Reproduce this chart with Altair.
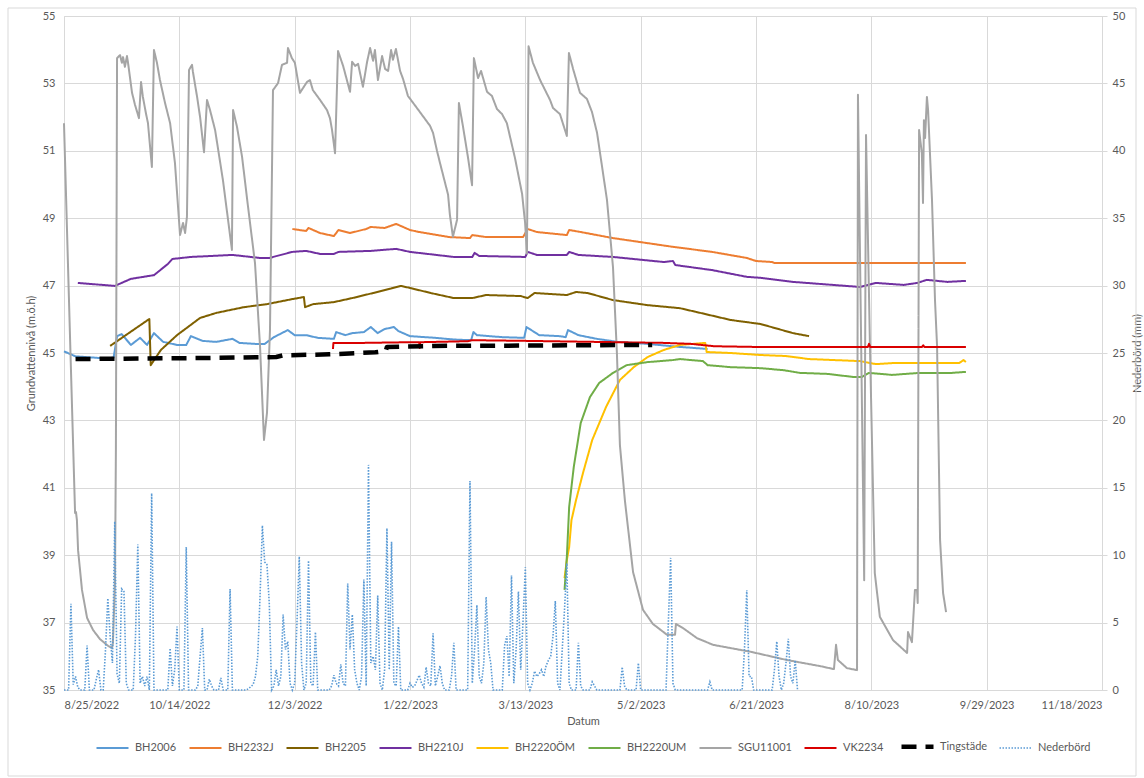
import altair as alt
import pandas as pd

START = pd.Timestamp("2022-08-25")

SERIES = ["BH2006", "BH2232J", "BH2205", "BH2210J", "BH2220ÖM", "BH2220UM",
          "SGU11001", "VK2234", "Tingstäde", "Nederbörd"]
COLORS = ["#5B9BD5", "#ED7D31", "#7F6000", "#7030A0", "#FFC000", "#70AD47",
          "#A5A5A5", "#D90000", "#000000", "#5B9BD5"]
DASHES = [[1, 0], [1, 0], [1, 0], [1, 0], [1, 0], [1, 0],
          [1, 0], [1, 0], [15, 9], [1.5, 1.5]]
WIDTHS = [2, 2, 2, 2, 2, 2, 2, 2, 4.5, 1.6]

# Day offsets are counted from 2022-08-25
bh2006_day = [0, 5, 18, 21.5, 23, 25, 29, 33, 36, 39, 43, 49, 53, 55, 60, 66, 73, 76, 83, 87,
              91, 97, 100, 105, 110, 117, 118, 122, 125, 130, 133, 136, 139, 143, 145, 150,
              161, 169, 176.5, 177.5, 179, 190, 199.5, 200.5, 206, 215, 217.5, 218.5, 223,
              231, 240, 253, 267, 279]
bh2006_val = [45.05, 44.90, 44.84, 44.86, 45.50, 45.56, 45.24, 45.45, 45.24, 45.59, 45.33, 45.24,
              45.24, 45.50, 45.36, 45.33, 45.42, 45.30, 45.27, 45.27, 45.47, 45.68, 45.53, 45.53,
              45.45, 45.42, 45.62, 45.53, 45.59, 45.62, 45.77, 45.59, 45.71, 45.77, 45.65, 45.50,
              45.45, 45.40, 45.38, 45.62, 45.53, 45.47, 45.45, 45.77, 45.53, 45.50, 45.47, 45.68,
              45.53, 45.42, 45.33, 45.27, 45.18, 45.12]

bh2232j_day = [99, 105, 106, 111, 117, 119, 124, 131, 133, 139, 144, 150, 154, 167, 176, 177,
               183, 199, 201, 205, 218, 219, 224, 238, 253, 264, 281, 296, 300, 307, 308, 391]
bh2232j_val = [48.68, 48.62, 48.71, 48.56, 48.47, 48.65, 48.56, 48.68, 48.74, 48.71, 48.83, 48.65,
               48.59, 48.44, 48.41, 48.50, 48.44, 48.44, 48.68, 48.59, 48.50, 48.65, 48.59, 48.41,
               48.26, 48.15, 48.00, 47.82, 47.73, 47.70, 47.67, 47.67]

bh2205_day = [20, 37, 37.6, 42, 49, 59, 66, 78, 88, 99, 104, 104.5, 108, 117, 125, 134, 146,
              150, 159, 169, 177, 183, 198, 201, 204, 218, 222, 227, 238, 253, 267, 274, 289,
              302, 316, 323]
bh2205_val = [45.21, 46.01, 44.64, 45.09, 45.53, 46.04, 46.19, 46.36, 46.45, 46.60, 46.66, 46.36,
              46.45, 46.51, 46.63, 46.78, 46.99, 46.93, 46.78, 46.63, 46.63, 46.72, 46.69, 46.63,
              46.78, 46.72, 46.81, 46.78, 46.57, 46.42, 46.33, 46.22, 45.98, 45.86, 45.59, 45.50]

bh2210j_day = [6, 22, 29, 39, 45, 47, 55, 73, 85, 89, 99, 105, 111, 117, 119, 133, 144, 150,
               169, 177, 178, 180, 200, 201, 205, 218, 219, 223, 238, 260, 264, 265, 281, 296,
               302, 316, 345, 352, 364, 370, 374, 383, 391]
bh2210j_val = [47.08, 46.99, 47.20, 47.31, 47.64, 47.79, 47.85, 47.91, 47.82, 47.82, 48.00, 48.03,
               47.94, 47.94, 48.00, 48.03, 48.09, 48.00, 47.85, 47.85, 47.97, 47.88, 47.85, 48.00,
               47.91, 47.91, 48.00, 47.91, 47.85, 47.70, 47.73, 47.61, 47.46, 47.26, 47.23, 47.11,
               46.96, 47.08, 47.02, 47.08, 47.17, 47.11, 47.14]

bh2220om_day = [217, 218, 219, 220, 222, 225, 229, 235, 241, 247, 253, 260, 267, 278, 278.6,
                289, 302, 313, 323, 345, 352, 359, 388, 390, 391]
bh2220om_val = [38.32, 38.86, 39.24, 40.04, 40.64, 41.44, 42.42, 43.40, 44.20, 44.58, 44.88,
                45.09, 45.24, 45.30, 45.03, 45.00, 44.94, 44.91, 44.82, 44.76, 44.67, 44.70,
                44.70, 44.79, 44.73]

bh2220um_day = [217, 218, 219, 221, 224, 228, 232, 238, 244, 253, 264, 267, 277, 279, 289, 302,
                312, 319, 331, 342, 346, 349, 359, 371, 385, 391]
bh2220um_val = [37.97, 38.95, 40.43, 41.62, 42.92, 43.69, 44.11, 44.41, 44.64, 44.73, 44.79,
                44.82, 44.76, 44.64, 44.58, 44.55, 44.49, 44.41, 44.38, 44.29, 44.29, 44.41,
                44.35, 44.41, 44.41, 44.44]

sgu11001_day = [0, 2.6, 4.8, 5.2, 5.6, 6.1, 7.8, 10, 12.6, 15.6, 19.1, 20.8, 21.2, 22.1, 22.5,
                23.0, 24.3, 25.1, 25.6, 26.4, 27.3, 27.7, 29.5, 30.8, 32.5, 33.4, 34.2, 35.5,
                36.4, 38.1, 39.0, 40.3, 41.6, 43.8, 46.0, 48.1, 50.3, 51.6, 52.5, 53.3, 54.2,
                55.5, 55.9, 57.7, 59.0, 60.7, 62.0, 63.3, 65.5, 68.9, 72.8, 73.3, 75.0, 77.2,
                79.8, 82.8, 85.0, 86.7, 88.0, 89.3, 90.6, 92.8, 94.5, 96.7, 97.1, 98.8, 100.1,
                102.3, 105.3, 106.6, 107.9, 111.0, 114.0, 115.3, 116.2, 117.5, 118.8, 121.0,
                124.0, 124.9, 126.2, 127.5, 129.6, 131.4, 132.7, 134.0, 134.8, 136.1, 137.9,
                139.2, 140.5, 141.8, 142.6, 143.9, 145.7, 147.0, 149.1, 153.0, 158.7, 160.0,
                161.7, 163.0, 166.5, 167.3, 168.6, 170.4, 171.2, 173.0, 175.1, 176.9, 177.7,
                179.5, 180.8, 183.4, 185.5, 187.7, 189.9, 192.0, 195.5, 198.6, 199.9, 200.7,
                201.4, 203.3, 206.4, 210.7, 212.0, 215.0, 218.0, 218.9, 220.7, 223.7, 226.7,
                228.9, 231.1, 235.4, 238.0, 239.7, 241.0, 243.2, 246.7, 251.0, 255.3, 261.4,
                264.9, 265.3, 268.3, 274.4, 281.4, 298.0, 313.4, 327.7, 333.8, 334.7, 335.5,
                339.4, 343.8, 344.2, 346.9, 347.7, 349.4, 351.5, 353.7, 359.4, 365.5, 365.9,
                367.6, 368.9, 369.8, 370.1, 370.7, 371.9, 372.4, 372.8, 373.3, 374.1, 374.6,
                376.3, 377.6, 378.5, 379.8, 381.1, 382.4]
sgu11001_val = [51.82, 45.50, 40.25, 40.28, 40.04, 39.15, 37.97, 37.14, 36.78, 36.51, 36.31,
                36.25, 36.39, 38.17, 42.12, 53.75, 53.84, 53.61, 53.78, 53.49, 53.81, 53.64,
                52.72, 52.36, 51.97, 53.04, 52.60, 52.12, 51.82, 50.52, 53.99, 53.61, 53.10,
                52.42, 51.82, 50.64, 48.50, 48.86, 48.56, 49.04, 53.40, 53.55, 53.34, 52.60,
                52.00, 50.96, 52.51, 52.21, 51.62, 50.13, 48.06, 52.21, 51.71, 50.82, 49.33,
                47.67, 45.18, 42.42, 43.22, 45.68, 52.80, 53.01, 53.55, 53.61, 54.05, 53.75,
                53.61, 52.72, 53.04, 53.10, 52.80, 52.51, 52.21, 51.97, 51.62, 50.93, 53.96,
                53.52, 52.75, 53.64, 53.52, 53.58, 52.90, 53.64, 54.05, 53.67, 53.99, 53.10,
                53.81, 53.43, 53.37, 53.99, 53.70, 54.02, 53.37, 53.13, 52.63, 52.27, 51.74,
                51.53, 51.00, 50.64, 49.70, 49.10, 48.45, 48.95, 52.42, 51.71, 50.82, 49.98,
                53.75, 53.16, 53.37, 52.75, 52.63, 52.24, 52.09, 51.82, 50.79, 49.72, 48.86,
                47.95, 54.10, 53.61, 53.10, 52.51, 52.27, 52.09, 51.44, 53.90, 53.43, 52.72,
                52.54, 52.15, 51.53, 49.54, 47.55, 45.00, 42.27, 40.60, 38.50, 37.38, 36.96,
                36.64, 36.64, 36.96, 36.84, 36.54, 36.34, 36.13, 35.89, 35.71, 35.62, 36.34,
                35.89, 35.65, 35.59, 52.66, 38.26, 51.47, 45.20, 38.47, 37.17, 36.48, 36.10,
                36.72, 36.42, 37.97, 37.97, 37.58, 51.62, 50.93, 49.45, 51.91, 51.38, 52.60,
                52.21, 49.54, 46.57, 45.20, 39.45, 37.88, 37.31]

vk2234_day = [116.6, 116.8, 130, 150, 154, 154.2, 154.4, 175, 177, 200, 230, 260, 272, 282, 300,
              348.5, 349, 349.5, 372, 372.5, 373, 391]
vk2234_val = [45.12, 45.30, 45.30, 45.32, 45.32, 45.15, 45.32, 45.35, 45.38, 45.36, 45.33,
              45.30, 45.27, 45.20, 45.18, 45.18, 45.27, 45.18, 45.18, 45.23, 45.18, 45.18]

tingstade_day = [5, 60, 92, 95, 115, 135, 139.5, 140, 160, 200, 255]
tingstade_val = [44.82, 44.85, 44.88, 44.93, 44.96, 45.02, 45.06, 45.18, 45.21, 45.22, 45.24]

# Daily precipitation (mm)
nederbord_day = [0, 2, 3, 4, 5, 6, 7, 9, 10, 11, 13, 14, 15, 16, 17, 18, 19, 20, 21, 22, 23, 24,
                 25, 26, 27, 28, 30, 31, 32, 33, 34, 35, 36, 37, 38, 39, 45, 46, 47, 48, 49, 50,
                 52, 53, 54, 57, 58, 59, 60, 61, 62, 63, 64, 65, 67, 68, 69, 71, 72, 73, 79, 80,
                 82, 83, 84, 85, 86, 87, 88, 89, 90, 91, 92, 93, 94, 95, 96, 97, 98, 99, 100,
                 101, 102, 103, 104, 105, 106, 107, 108, 109, 110, 115, 116, 117, 118, 119, 120,
                 121, 122, 123, 124, 125, 126, 127, 128, 129, 130, 131, 132, 133, 134, 135, 136,
                 137, 138, 139, 140, 141, 142, 143, 144, 145, 146, 149, 150, 151, 152, 153, 154,
                 155, 156, 157, 158, 159, 160, 161, 162, 163, 164, 165, 167, 168, 169, 170, 175,
                 176, 177, 178, 179, 180, 181, 182, 183, 184, 185, 186, 190, 191, 192, 193, 194,
                 195, 196, 197, 198, 199, 200, 201, 202, 203, 204, 205, 206, 207, 208, 209, 210,
                 211, 212, 213, 214, 215, 216, 217, 218, 219, 220, 222, 223, 224, 225, 228, 229,
                 230, 231, 241, 242, 243, 244, 248, 249, 250, 261, 262, 263, 264, 265, 279, 280,
                 281, 294, 295, 296, 297, 298, 299, 307, 308, 309, 310, 311, 312, 313, 314, 315,
                 316, 317, 318]
nederbord_mm = [0, 0, 6.4, 0.4, 1.0, 0.2, 0, 0, 3.3, 0, 0, 0.8, 1.5, 0, 0, 3.0, 6.8, 4.0, 2.0,
                12.5, 1.2, 0.5, 7.5, 7.3, 0.5, 0, 0, 4.0, 10.8, 0.5, 1.0, 0.3, 1.0, 0, 14.6, 0,
                0, 3.1, 0.3, 1.5, 4.7, 0, 0, 10.6, 0, 0, 0.3, 2.5, 4.6, 0, 0, 0.8, 0.3, 0, 0,
                0.9, 0, 0, 7.5, 0, 0, 0.1, 0.4, 1.0, 2.5, 7.0, 12.2, 9.5, 9.3, 6.4, 0, 0.3, 1.5,
                0.3, 1.0, 5.6, 3.0, 3.6, 0.5, 0, 0.5, 5.0, 9.9, 2.0, 0, 0.5, 9.6, 0.5, 0.3, 4.3,
                0, 0, 0.3, 1.1, 0.5, 0.3, 1.9, 0.5, 0.3, 7.9, 3.0, 5.6, 1.5, 0.5, 0, 1.0, 8.2,
                0.3, 16.7, 2.0, 2.5, 1.5, 7.0, 0.5, 0, 1.5, 12.0, 1.5, 11.0, 0.5, 0.3, 4.7, 0, 0,
                0.5, 0.2, 0.3, 0.7, 1.1, 0.5, 0.2, 1.7, 0.5, 0.3, 4.2, 0.3, 1.0, 1.8, 0.5, 0, 0,
                1.0, 3.5, 0, 0, 15.5, 0.5, 3.0, 6.3, 1.0, 0.5, 2.0, 6.9, 3.0, 2.0, 0, 0, 3.3,
                4.0, 1.0, 8.5, 0.5, 3.0, 7.3, 1.5, 5.1, 9.1, 0.5, 0, 0.5, 1.4, 1.0, 1.2, 1.5,
                1.0, 1.8, 2.2, 2.5, 4.0, 6.6, 0.5, 0, 3.0, 6.0, 9.4, 0.5, 0, 0, 3.5, 0.3, 0, 0,
                0.6, 0.3, 0, 0, 1.7, 0.3, 0, 0, 2.0, 0, 0, 5.0, 9.8, 0.5, 0, 0, 0.6, 0, 0, 3.0,
                7.4, 1.0, 1.0, 0, 0, 1.5, 3.6, 1.0, 0, 0.5, 2.0, 3.8, 1.0, 0.5, 2.2, 0]

X_TICKS = ["2022-08-25", "2022-10-14", "2022-12-03", "2023-01-22", "2023-03-13",
           "2023-05-02", "2023-06-21", "2023-08-10", "2023-09-29", "2023-11-18"]
LEFT_TICKS = [35, 37, 39, 41, 43, 45, 47, 49, 51, 53, 55]
RIGHT_TICKS = [0, 5, 10, 15, 20, 25, 30, 35, 40, 45, 50]

GROUNDWATER = [
    ("BH2006", bh2006_day, bh2006_val),
    ("BH2232J", bh2232j_day, bh2232j_val),
    ("BH2205", bh2205_day, bh2205_val),
    ("BH2210J", bh2210j_day, bh2210j_val),
    ("BH2220ÖM", bh2220om_day, bh2220om_val),
    ("BH2220UM", bh2220um_day, bh2220um_val),
    ("SGU11001", sgu11001_day, sgu11001_val),
    ("VK2234", vk2234_day, vk2234_val),
    ("Tingstäde", tingstade_day, tingstade_val),
]


def frame(name, days, values):
    return pd.DataFrame({
        "date": START + pd.to_timedelta(days, unit="D"),
        "value": values,
        "series": name,
    })


def dt(s):
    t = pd.Timestamp(s)
    return alt.DateTime(year=t.year, month=t.month, date=t.day)


GRID = "#D9D9D9"
TEXT = "#595959"
FONT = "Lato"

x_enc = alt.X(
    "date:T",
    scale=alt.Scale(domain=[dt(X_TICKS[0]), dt(X_TICKS[-1])], nice=False),
    axis=alt.Axis(values=[dt(s) for s in X_TICKS], format="%-m/%-d/%Y", title="Datum",
                  grid=True, gridColor=GRID, domain=False, ticks=False, labelPadding=9,
                  labelColor=TEXT, labelFontSize=11, labelFont=FONT, titleColor=TEXT,
                  titleFontSize=11, titleFont=FONT, titleFontWeight="normal", titlePadding=5,
                  labelOverlap=False),
)

legend = alt.Legend(title=None, orient="none", legendX=30, legendY=712, direction="horizontal",
                    columns=10, columnPadding=8, symbolType="stroke", symbolSize=1024,
                    labelOffset=4, labelFontSize=11, labelFont=FONT, labelColor=TEXT)

color_enc = alt.Color("series:N", scale=alt.Scale(domain=SERIES, range=COLORS), legend=legend)
dash_enc = alt.StrokeDash("series:N", scale=alt.Scale(type="ordinal", domain=SERIES, range=DASHES),
                          legend=legend)
width_enc = alt.StrokeWidth("series:N",
                            scale=alt.Scale(type="ordinal", domain=SERIES, range=WIDTHS),
                            legend=legend)

left_axis = alt.Axis(values=LEFT_TICKS, title="Grundvattennivå (m.ö.h)", grid=True,
                     gridColor=GRID, domain=False, ticks=False, labelPadding=9, labelColor=TEXT,
                     labelFontSize=11, labelFont=FONT, titleColor=TEXT, titleFontSize=11,
                     titleFont=FONT, titleFontWeight="normal", titlePadding=6)
right_axis = alt.Axis(values=RIGHT_TICKS, orient="right", title="Nederbörd (mm)", grid=False,
                      domain=True, domainColor=GRID, ticks=True, tickColor=GRID, tickSize=5,
                      labelPadding=5, labelColor=TEXT, labelFontSize=11, labelFont=FONT,
                      titleColor=TEXT, titleFontSize=11, titleFont=FONT,
                      titleFontWeight="normal", titlePadding=18, titleAngle=270)

gw_layers = []
for name, days, vals in GROUNDWATER:
    gw_layers.append(
        alt.Chart(frame(name, days, vals)).mark_line(strokeJoin="round").encode(
            x=x_enc,
            y=alt.Y("value:Q", scale=alt.Scale(domain=[35, 55], nice=False, zero=False),
                    axis=left_axis),
            color=color_enc, strokeDash=dash_enc, strokeWidth=width_enc,
        )
    )
groundwater = alt.layer(*gw_layers)

rain = alt.Chart(frame("Nederbörd", nederbord_day, nederbord_mm)).mark_line().encode(
    x=x_enc,
    y=alt.Y("value:Q", scale=alt.Scale(domain=[0, 50], nice=False, zero=True), axis=right_axis),
    color=color_enc, strokeDash=dash_enc, strokeWidth=width_enc,
)

frame_box = alt.Chart(pd.DataFrame({"k": [0]})).mark_rect(
    filled=False, stroke=GRID, strokeWidth=1
).encode(x=alt.value(-56), x2=alt.value(1072), y=alt.value(-8), y2=alt.value(760))

chart = alt.layer(frame_box, groundwater, rain).resolve_scale(y="independent").properties(
    width=1038, height=674,
    autosize=alt.AutoSizeParams(type="none"),
    padding={"left": 64, "top": 16, "right": 42, "bottom": 88},
).configure_view(stroke=None).configure(background="white")

chart.save("out.html", embed_options={"renderer": "svg", "actions": False})
